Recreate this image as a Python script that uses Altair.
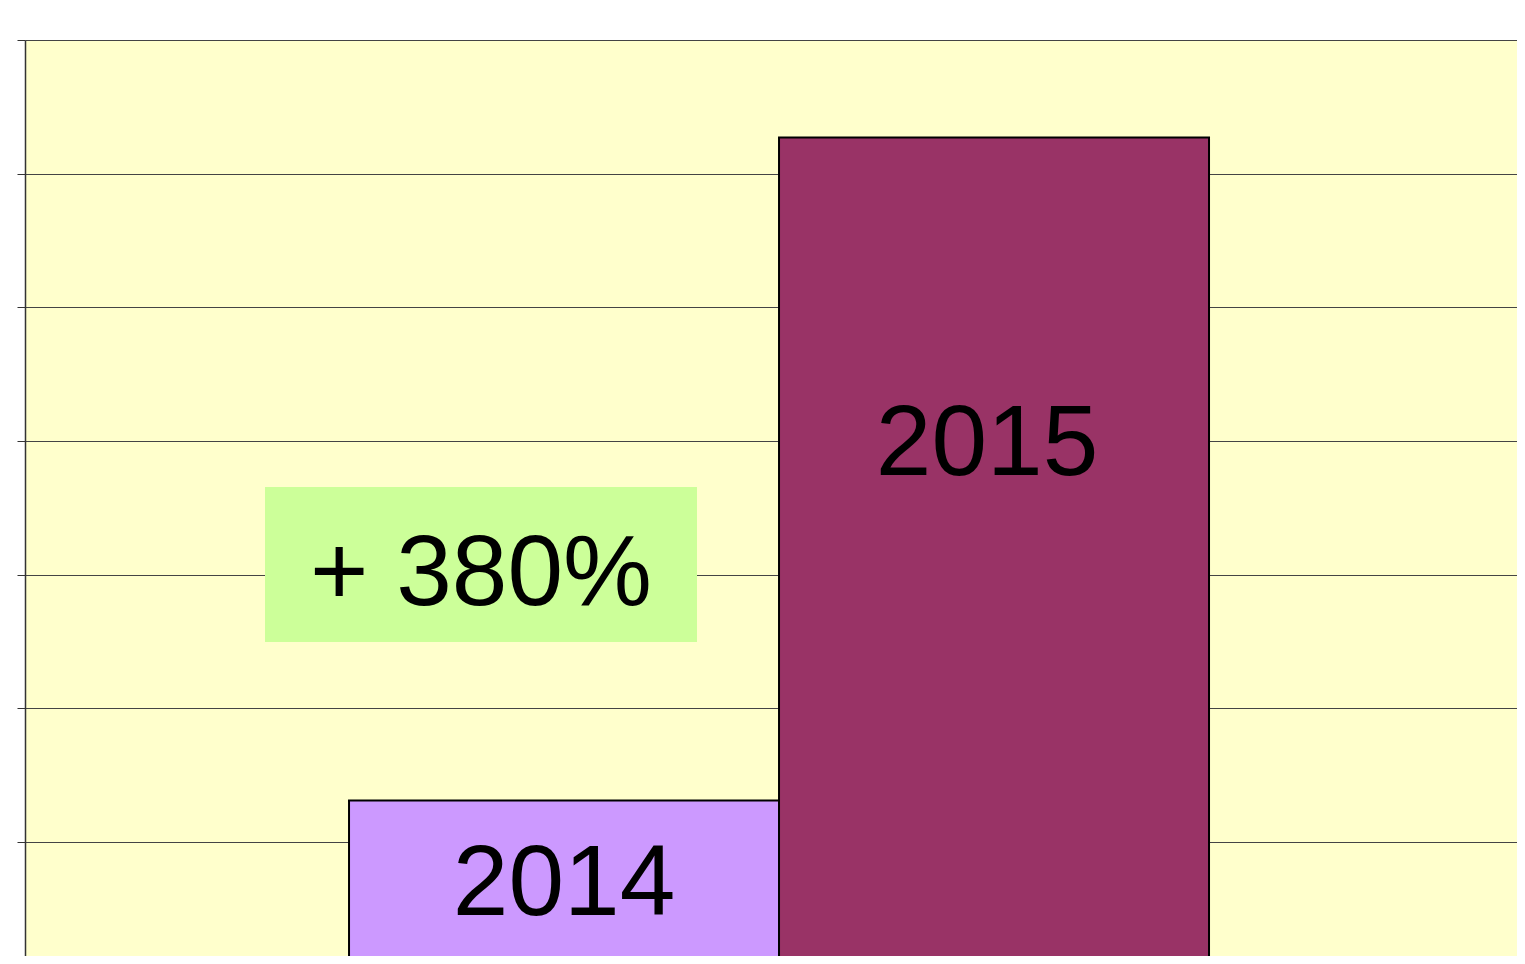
import altair as alt
import pandas as pd

# Data
years = ["2014", "2015"]
values = [1.31, 6.27]
bar_colors = ["#CC99FF", "#993366"]
annotation = ["+ 380%"]
y_ticks = [1, 2, 3, 4, 5, 6, 7]

df = pd.DataFrame({"year": years, "value": values})
ann = pd.DataFrame({"label": annotation})

FONT = "Liberation Sans"
FS = 100

x_scale = alt.Scale(domain=years, paddingInner=0, paddingOuter=0.7349, align=0.5127)
y_scale = alt.Scale(domain=[0.147, 7], nice=False, zero=False)
y_axis = alt.Axis(values=y_ticks, labels=False, title=None, tickSize=8,
                  grid=True, gridColor="#444444", gridWidth=1,
                  domainColor="#333333", domainWidth=1.5, tickColor="#333333")

x_enc = alt.X("year:N", scale=x_scale, axis=None)
y_enc = alt.Y("value:Q", scale=y_scale, axis=y_axis)

base = alt.Chart(df)

bars = base.mark_bar(stroke="black", strokeWidth=2, clip=True).encode(
    x=x_enc,
    y=y_enc,
    y2=alt.datum(0),
    color=alt.Color("year:N", scale=alt.Scale(domain=years, range=bar_colors), legend=None),
)

label_2014 = base.transform_filter(alt.datum.year == "2014").mark_text(
    font=FONT, fontSize=FS, baseline="alphabetic", align="center", dy=114, color="black"
).encode(x=x_enc, y=y_enc, text="year:N")

label_2015 = base.transform_filter(alt.datum.year == "2015").mark_text(
    font=FONT, fontSize=FS, baseline="alphabetic", align="center", dy=337, dx=-7, color="black"
).encode(x=x_enc, y=y_enc, text="year:N")

ann_box = alt.Chart(ann).mark_rect(color="#CCFF99").encode(
    x=alt.value(240), x2=alt.value(672), y=alt.value(447), y2=alt.value(602)
)
ann_text = alt.Chart(ann).mark_text(
    font=FONT, fontSize=FS, baseline="alphabetic", align="center", color="black"
).encode(x=alt.value(456), y=alt.value(565), text="label:N")

chart = alt.layer(bars, ann_box, ann_text, label_2014, label_2015).properties(
    width=1492,
    height=916,
    autosize=alt.AutoSizeParams(type="none"),
    padding={"left": 17, "top": 32, "right": 0, "bottom": 0},
    background="white",
).configure_view(fill="#FFFFCC", stroke="transparent")

chart.save("out.html", embed_options={"renderer": "svg", "actions": False})
